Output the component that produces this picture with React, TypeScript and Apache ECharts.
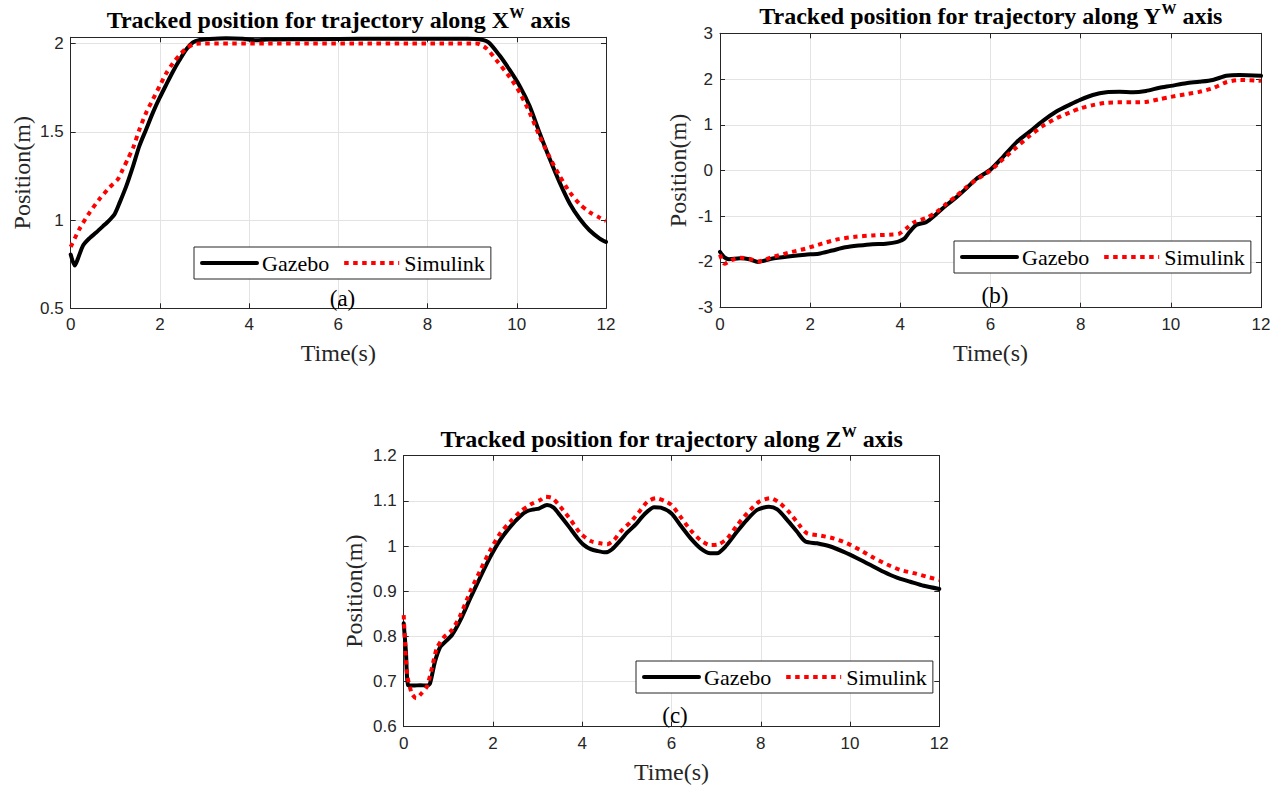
import React, { useEffect, useRef } from 'react';
import * as echarts from 'echarts';

// ---- Chart (a): trajectory along X^W ----
const tAGazebo = [0, 0.09, 0.16, 0.28, 0.43, 0.57, 0.72, 0.87, 0.99, 1.1, 1.25, 1.4, 1.54, 1.69, 1.84, 1.99, 2.14, 2.29, 2.44, 2.59, 2.74, 2.89, 3.11, 3.48, 3.86, 4.16, 4.38, 5.0, 6.0, 7.0, 8.0, 8.9, 9.1, 9.36, 9.62, 9.84, 10.07, 10.29, 10.51, 10.74, 10.96, 11.19, 11.41, 11.63, 11.86, 12];
const vAGazebo = [0.805, 0.742, 0.78, 0.857, 0.899, 0.929, 0.964, 1.0, 1.036, 1.1, 1.195, 1.307, 1.42, 1.513, 1.607, 1.69, 1.766, 1.84, 1.906, 1.966, 2.006, 2.02, 2.026, 2.03, 2.027, 2.018, 2.022, 2.024, 2.025, 2.027, 2.027, 2.027, 2.026, 2.008, 1.93, 1.85, 1.757, 1.644, 1.494, 1.345, 1.213, 1.092, 1.007, 0.942, 0.895, 0.876];
const tASimulink = [0, 0.2, 0.43, 0.65, 0.87, 1.06, 1.17, 1.28, 1.4, 1.54, 1.69, 1.84, 1.99, 2.14, 2.29, 2.44, 2.59, 2.74, 2.89, 9.1, 9.32, 9.54, 9.84, 10.07, 10.29, 10.51, 10.74, 10.96, 11.19, 11.41, 11.63, 11.86, 12];
const vASimulink = [0.848, 0.951, 1.045, 1.12, 1.185, 1.232, 1.288, 1.345, 1.41, 1.513, 1.607, 1.682, 1.757, 1.83, 1.888, 1.934, 1.972, 1.994, 2.0, 2.0, 1.972, 1.906, 1.81, 1.72, 1.607, 1.476, 1.354, 1.25, 1.157, 1.09, 1.045, 1.013, 0.995];

// ---- Chart (b): trajectory along Y^W ----
const tBGazebo = [0, 0.1, 0.2, 0.45, 0.65, 0.84, 1.14, 1.51, 1.89, 2.19, 2.49, 2.78, 3.08, 3.38, 3.68, 3.94, 4.09, 4.2, 4.35, 4.57, 4.8, 5.02, 5.25, 5.47, 5.69, 6.0, 6.28, 6.58, 6.87, 7.17, 7.46, 7.76, 8.0, 8.27, 8.57, 8.86, 9.16, 9.45, 9.75, 10.0, 10.34, 10.63, 10.93, 11.23, 11.52, 12];
const vBGazebo = [-1.78, -1.9, -1.94, -1.92, -1.94, -2.0, -1.93, -1.88, -1.84, -1.82, -1.75, -1.68, -1.64, -1.61, -1.6, -1.56, -1.49, -1.35, -1.19, -1.13, -0.95, -0.76, -0.58, -0.385, -0.18, 0.02, 0.3, 0.62, 0.85, 1.09, 1.29, 1.44, 1.55, 1.65, 1.71, 1.72, 1.71, 1.74, 1.81, 1.85, 1.91, 1.94, 1.98, 2.07, 2.09, 2.07];
const tBSimulink = [0, 0.1, 0.25, 0.45, 0.65, 0.84, 1.14, 1.51, 1.89, 2.26, 2.63, 3.0, 3.38, 3.83, 3.98, 4.13, 4.31, 4.57, 4.8, 5.02, 5.25, 5.47, 5.69, 6.0, 6.28, 6.58, 6.87, 7.17, 7.46, 7.76, 8.0, 8.27, 8.57, 8.86, 9.16, 9.45, 9.75, 10.0, 10.34, 10.63, 10.93, 11.23, 11.52, 12];
const vBSimulink = [-1.84, -2.04, -1.96, -1.91, -1.93, -1.99, -1.9, -1.8, -1.71, -1.6, -1.5, -1.45, -1.42, -1.4, -1.38, -1.27, -1.13, -1.04, -0.91, -0.73, -0.55, -0.36, -0.2, 0.0, 0.25, 0.51, 0.76, 0.98, 1.14, 1.27, 1.36, 1.43, 1.48, 1.49, 1.49, 1.5, 1.56, 1.61, 1.67, 1.72, 1.8, 1.93, 1.98, 1.96];

// ---- Chart (c): trajectory along Z^W ----
const tCGazebo = [0, 0.05, 0.1, 0.22, 0.37, 0.52, 0.59, 0.7, 0.82, 0.93, 1.08, 1.27, 1.49, 1.72, 1.94, 2.16, 2.39, 2.61, 2.76, 2.91, 3.03, 3.21, 3.36, 3.51, 3.7, 3.89, 4.04, 4.19, 4.34, 4.52, 4.67, 4.86, 5.01, 5.2, 5.39, 5.61, 5.76, 6.0, 6.2, 6.43, 6.65, 6.87, 7.02, 7.21, 7.47, 7.69, 7.92, 8.18, 8.37, 8.59, 8.81, 9.0, 9.26, 9.56, 9.86, 10.16, 10.46, 10.75, 11.05, 11.35, 11.65, 12];
const vCGazebo = [0.829, 0.766, 0.692, 0.691, 0.692, 0.691, 0.696, 0.744, 0.777, 0.788, 0.803, 0.836, 0.884, 0.932, 0.976, 1.013, 1.043, 1.066, 1.077, 1.081, 1.083, 1.091, 1.085, 1.067, 1.043, 1.018, 1.002, 0.993, 0.989, 0.986, 0.993, 1.013, 1.03, 1.048, 1.07, 1.086, 1.085, 1.072, 1.046, 1.017, 0.995, 0.984, 0.984, 0.999, 1.032, 1.058, 1.08, 1.087, 1.081, 1.058, 1.032, 1.01, 1.006, 0.999, 0.987, 0.973, 0.958, 0.943, 0.93, 0.921, 0.912, 0.905];
const tCSimulink = [0, 0.03, 0.08, 0.18, 0.28, 0.4, 0.52, 0.63, 0.74, 0.89, 1.08, 1.27, 1.49, 1.72, 1.94, 2.16, 2.39, 2.61, 2.84, 3.06, 3.18, 3.33, 3.51, 3.74, 3.96, 4.19, 4.41, 4.56, 4.71, 4.86, 5.09, 5.31, 5.46, 5.65, 5.84, 6.0, 6.2, 6.43, 6.65, 6.87, 7.06, 7.25, 7.47, 7.69, 7.96, 8.22, 8.44, 8.66, 8.89, 9.04, 9.34, 9.63, 9.93, 10.23, 10.53, 10.83, 11.13, 11.43, 11.72, 12];
const vCSimulink = [0.847, 0.788, 0.714, 0.674, 0.663, 0.674, 0.689, 0.729, 0.773, 0.797, 0.814, 0.847, 0.899, 0.947, 0.991, 1.028, 1.054, 1.076, 1.092, 1.102, 1.109, 1.106, 1.087, 1.058, 1.028, 1.011, 1.006, 1.004, 1.013, 1.032, 1.054, 1.08, 1.098, 1.106, 1.1, 1.091, 1.065, 1.035, 1.013, 1.002, 1.004, 1.017, 1.046, 1.072, 1.098, 1.106, 1.094, 1.072, 1.043, 1.028, 1.023, 1.017, 1.006, 0.991, 0.974, 0.959, 0.947, 0.94, 0.932, 0.925];

const seriesNames = ['Gazebo', 'Simulink'];
const panelLabels = ['(a)', '(b)', '(c)'];
const axisLetters = ['X', 'Y', 'Z'];
const yRanges = [
  { min: 0.5, max: 2.035, interval: 0.5 },
  { min: -3, max: 3, interval: 1 },
  { min: 0.6, max: 1.2, interval: 0.1 },
];
const xRange = { min: 0, max: 12, interval: 2 };

const serif = '"Liberation Serif", "Times New Roman", serif';
const sans = '"Liberation Sans", Arial, sans-serif';
const axisColor = '#262626';
const gridColor = '#e3e3e3';

const zip = (t: number[], v: number[]) => t.map((x, i) => [x, v[i]]);

const panels = [
  { grid: { left: 70.7, top: 37.3, width: 535.3, height: 271 }, yNameGap: 37, legend: { left: 194, top: 247 }, label: { x: 342.5, y: 298 }, titleY: 20,
    gaz: zip(tAGazebo, vAGazebo), sim: zip(tASimulink, vASimulink) },
  { grid: { left: 720, top: 33.3, width: 541, height: 274.4 }, yNameGap: 30, legend: { left: 954, top: 241 }, label: { x: 995, y: 295 }, titleY: 16,
    gaz: zip(tBGazebo, vBGazebo), sim: zip(tBSimulink, vBSimulink) },
  { grid: { left: 403.7, top: 455.7, width: 535.6, height: 271 }, yNameGap: 38, legend: { left: 636, top: 661 }, label: { x: 675, y: 715 }, titleY: 439,
    gaz: zip(tCGazebo, vCGazebo), sim: zip(tCSimulink, vCSimulink) },
];

function buildOption() {
  const grid: any[] = [];
  const xAxis: any[] = [];
  const yAxis: any[] = [];
  const series: any[] = [];
  const legend: any[] = [];
  const graphic: any[] = [];

  panels.forEach((p, i) => {
    grid.push({ ...p.grid, containLabel: false });
    const yr = yRanges[i];
    const axisCommon = {
      type: 'value',
      gridIndex: i,
      axisLine: { show: true, onZero: false, lineStyle: { color: axisColor, width: 1 } },
      axisTick: { show: true, inside: true, length: 5, lineStyle: { color: axisColor, width: 1 } },
    };
    for (const pos of ['bottom', 'top']) {
      const main = pos === 'bottom';
      xAxis.push({
        ...axisCommon,
        position: pos,
        min: xRange.min, max: xRange.max, interval: xRange.interval,
        axisLabel: { show: main, fontFamily: sans, fontSize: 17, color: axisColor, margin: 8 },
        splitLine: { show: main, lineStyle: { color: gridColor, width: 1 } },
        name: main ? 'Time(s)' : '',
        nameLocation: 'middle',
        nameGap: 33,
        nameTextStyle: { fontFamily: serif, fontSize: 24, color: axisColor },
      });
    }
    for (const pos of ['left', 'right']) {
      const main = pos === 'left';
      yAxis.push({
        ...axisCommon,
        position: pos,
        min: yr.min, max: yr.max, interval: yr.interval,
        axisLabel: {
          show: main, fontFamily: sans, fontSize: 17, color: axisColor, margin: 7,
          formatter: (v: number) => {
            const k = (v - yr.min) / yr.interval;
            return Math.abs(k - Math.round(k)) < 1e-6 ? String(Math.round(v * 1000) / 1000) : '';
          },
        },
        splitLine: { show: main, lineStyle: { color: gridColor, width: 1 } },
        name: main ? 'Position(m)' : '',
        nameLocation: 'middle',
        nameGap: p.yNameGap,
        nameTextStyle: { fontFamily: serif, fontSize: 24, color: axisColor },
      });
    }
    series.push({
      type: 'line', name: seriesNames[0], xAxisIndex: 2 * i, yAxisIndex: 2 * i,
      data: p.gaz, symbol: 'none', smooth: 0.25, z: 2,
      lineStyle: { color: '#000000', width: 4, join: 'round', cap: 'round' },
      itemStyle: { color: '#000000' },
    });
    series.push({
      type: 'line', name: seriesNames[1], xAxisIndex: 2 * i, yAxisIndex: 2 * i,
      data: p.sim, symbol: 'none', smooth: 0.25, z: 3,
      lineStyle: { color: '#ff0000', width: 4, type: [4.5, 4.5], cap: 'butt' },
      itemStyle: { color: '#ff0000' },
    });
    legend.push({
      left: p.legend.left, top: p.legend.top, orient: 'horizontal',
      data: seriesNames, selectedMode: false,
      backgroundColor: '#ffffff', borderColor: axisColor, borderWidth: 1, borderRadius: 0,
      padding: [5, 6], itemWidth: 55, itemHeight: 14, itemGap: 13,
      itemStyle: { opacity: 0 },
      lineStyle: { width: 4 },
      textStyle: { fontFamily: serif, fontSize: 22, color: '#000000' },
    });
    const cx = p.grid.left + p.grid.width / 2;
    graphic.push({
      type: 'text', x: cx, y: p.titleY, z: 10,
      style: {
        text: `{t|Tracked position for trajectory along ${axisLetters[i]}}{s|W}{t| axis}`,
        align: 'center', verticalAlign: 'middle',
        rich: {
          t: { fontFamily: serif, fontSize: 24, fontWeight: 'bold', lineHeight: 30, fill: '#000000' },
          s: { fontFamily: serif, fontSize: 15, fontWeight: 'bold', lineHeight: 16, verticalAlign: 'top', fill: '#000000' },
        },
      },
    });
    graphic.push({
      type: 'text', x: p.label.x, y: p.label.y, z: 10,
      style: {
        text: panelLabels[i], align: 'center', verticalAlign: 'middle',
        fontFamily: serif, fontSize: 23, fill: '#000000',
      },
    });
  });

  return {
    animation: false,
    backgroundColor: '#ffffff',
    grid, xAxis, yAxis, series, legend, graphic,
  };
}

export default function App() {
  const ref = useRef<HTMLDivElement>(null);
  useEffect(() => {
    if (!ref.current) return;
    const chart = echarts.init(ref.current, undefined, { renderer: 'svg' });
    chart.setOption(buildOption() as any);
    return () => chart.dispose();
  }, []);
  return <div ref={ref} style={{ position: 'absolute', left: 0, top: 0, width: 1281, height: 788 }} />;
}
